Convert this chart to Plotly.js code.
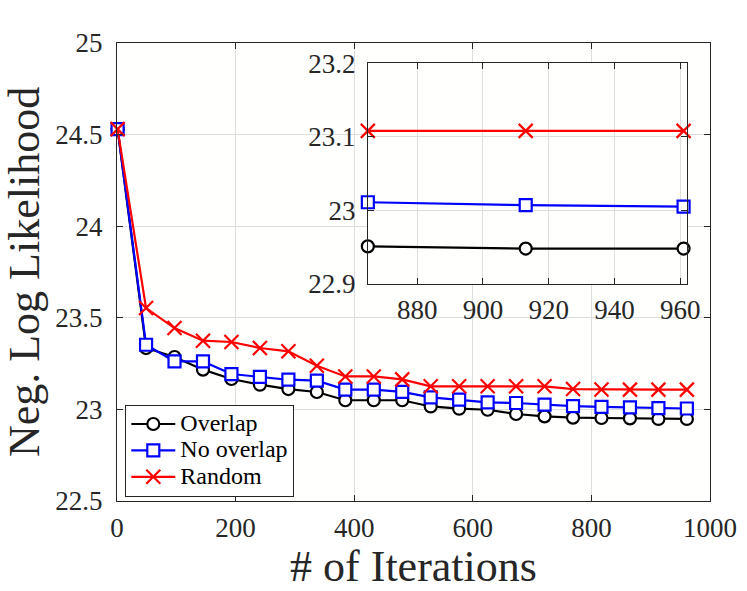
<!DOCTYPE html>
<html><head><meta charset="utf-8">
<script src="https://cdn.plot.ly/plotly-3.0.1.min.js"></script>
<style>html,body{margin:0;padding:0;background:#fff}#chart{width:747px;height:591px}</style>
</head><body><div id="chart"></div>
<script>
const iterations = [1,49,97,145,193,241,289,337,385,433,481,529,577,625,673,721,769,817,865,913,961];
const overlap    = [24.53,23.335,23.286,23.217,23.166,23.135,23.111,23.095,23.050,23.050,23.050,23.016,23.004,22.998,22.975,22.962,22.955,22.953,22.951,22.948,22.948];
const noOverlap  = [24.53,23.353,23.262,23.262,23.193,23.177,23.162,23.157,23.108,23.108,23.096,23.066,23.053,23.038,23.035,23.026,23.018,23.014,23.011,23.007,23.005];
const random     = [24.53,23.553,23.444,23.375,23.368,23.335,23.317,23.238,23.180,23.180,23.164,23.126,23.126,23.126,23.126,23.126,23.111,23.109,23.108,23.108,23.108];
const seriesNames = ['Overlap','No overlap','Random'];
const mainXTicks = [0,200,400,600,800,1000];
const mainYTicks = [22.5,23,23.5,24,24.5,25];
const insetXTicks = [880,900,920,940,960];
const insetYTicks = [22.9,23,23.1,23.2];
const insetStart = 18;

const serif = 'Liberation Serif, Times New Roman, serif';
const styles = [
  {color:'#000000', symbol:'circle'},
  {color:'#0000ff', symbol:'square'},
  {color:'#ff0000', symbol:'x-thin-open'}
];
const series = [overlap, noOverlap, random];
function markerFor(st){
  return st.symbol==='x-thin-open'
    ? {symbol:st.symbol, size:14, color:st.color, line:{color:st.color, width:2.2}}
    : {symbol:st.symbol, size:12, color:'#ffffff', line:{color:st.color, width:2.2}};
}
const traces = [];
series.forEach((vals,i)=>{
  const st = styles[i];
  traces.push({x:iterations, y:vals, name:'<span style="font-size:24px">'+seriesNames[i]+'</span>', type:'scatter', mode:'lines+markers',
    line:{color:st.color, width:2.2}, marker:markerFor(st), xaxis:'x', yaxis:'y', cliponaxis:false});
});
series.forEach((vals,i)=>{
  const st = styles[i];
  traces.push({x:iterations.slice(insetStart), y:vals.slice(insetStart), name:seriesNames[i], type:'scatter', mode:'lines+markers',
    line:{color:st.color, width:2.2}, marker:markerFor(st), xaxis:'x2', yaxis:'y2', showlegend:false, cliponaxis:false});
});

const axColor = '#262626';
const tickFont = {family:serif, size:27, color:axColor};
const base = {showline:true, linecolor:axColor, linewidth:1, mirror:'ticks', ticks:'inside', ticklen:6, tickcolor:axColor,
  showgrid:true, gridcolor:'#dedede', gridwidth:1, zeroline:false, tickfont:tickFont, fixedrange:true};

const layout = {
  width:747, height:591,
  margin:{l:117, r:37, t:43, b:90},
  paper_bgcolor:'#ffffff', plot_bgcolor:'#fffffe',
  showlegend:true,
  legend:{x:0.014, y:0.21, xanchor:'left', yanchor:'top', bgcolor:'#ffffff', bordercolor:axColor, borderwidth:1,
    font:{family:serif, size:18, color:'#000'}, tracegroupgap:0, itemwidth:44},
  xaxis:Object.assign({}, base, {domain:[0,1], anchor:'y', range:[0,1000], tickvals:mainXTicks, ticklabelstandoff:3,
    title:{text:'# of Iterations', font:{family:serif, size:44, color:axColor}, standoff:0}}),
  yaxis:Object.assign({}, base, {domain:[0,1], anchor:'x', range:[22.5,25], tickvals:mainYTicks, ticklabelstandoff:8,
    title:{text:'Neg. Log Likelihood', font:{family:serif, size:44, color:axColor}, standoff:8}}),
  xaxis2:Object.assign({}, base, {domain:[0.423,0.961], anchor:'y2', range:[865,962], tickvals:insetXTicks, ticklabelstandoff:2}),
  yaxis2:Object.assign({}, base, {domain:[0.474,0.956], anchor:'x2', range:[22.9,23.2], tickvals:insetYTicks, ticklabelstandoff:6})
};
Plotly.newPlot('chart', traces, layout, {displayModeBar:false, staticPlot:true});
</script></body></html>
